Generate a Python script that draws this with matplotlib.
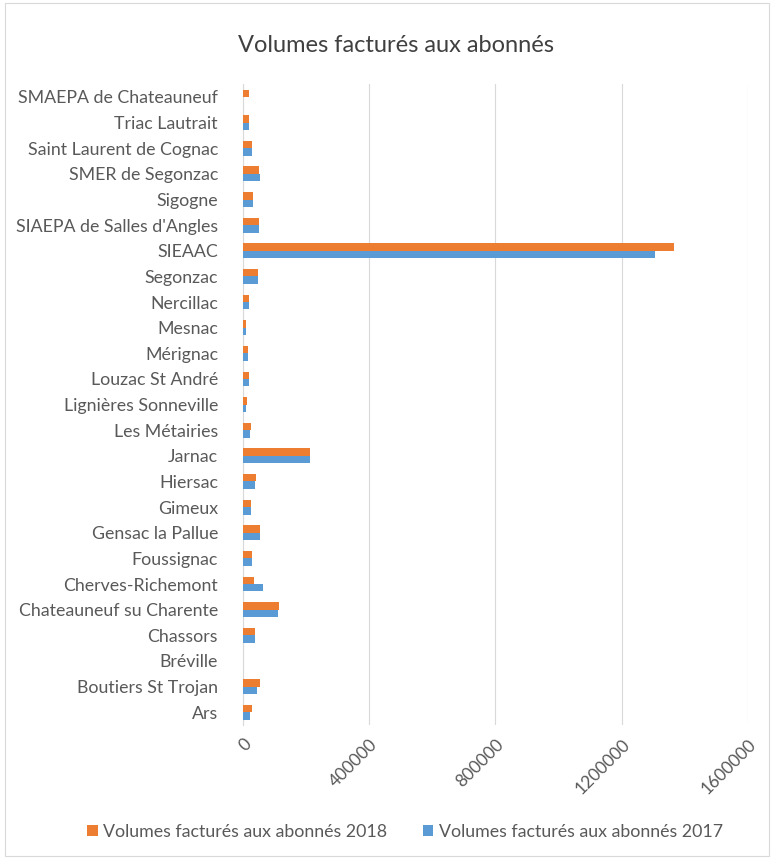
import numpy as np
import matplotlib
matplotlib.use('Agg')
import matplotlib.pyplot as plt
from matplotlib.patches import Rectangle, Patch

plt.rcParams['font.family'] = ['Lato', 'DejaVu Sans']

# bottom to top
CATEGORIES = [
    'Ars', 'Boutiers St Trojan', 'Bréville', 'Chassors', 'Chateauneuf su Charente',
    'Cherves-Richemont', 'Foussignac', 'Gensac la Pallue', 'Gimeux', 'Hiersac',
    'Jarnac', 'Les Métairies', 'Lignières Sonneville', 'Louzac St André', 'Mérignac',
    'Mesnac', 'Nercillac', 'Segonzac', 'SIEAAC', "SIAEPA de Salles d'Angles",
    'Sigogne', 'SMER de Segonzac', 'Saint Laurent de Cognac', 'Triac Lautrait',
    'SMAEPA de Chateauneuf',
]
VOL_2018 = [27500, 54000, 0, 37000, 113000,
            34000, 27500, 54000, 24000, 41000,
            212000, 24000, 14000, 18000, 15000,
            10500, 18000, 46500, 1366000, 50000,
            31000, 50000, 27500, 18000, 18000]
VOL_2017 = [21000, 43000, 0, 37000, 110000,
            63000, 27500, 54000, 24000, 37000,
            212000, 21000, 10000, 18000, 15000,
            10500, 18000, 47000, 1306000, 50000,
            31000, 54000, 27500, 18000, 0]
XTICKS = [0, 400000, 800000, 1200000, 1600000]

ORANGE = '#ED7D31'
BLUE = '#5B9BD5'
TXT = '#595959'

fig = plt.figure(figsize=(7.74, 8.59), dpi=100, facecolor='white')
fig.add_artist(Rectangle((0.006, 0.004), 0.988, 0.992, transform=fig.transFigure,
                         fill=False, edgecolor='#d9d9d9', linewidth=0.8))

ax = fig.add_axes([0.314, 0.156, 0.652, 0.746])

y = np.arange(len(CATEGORIES))
h = 0.29
ax.barh(y + h / 2, VOL_2018, height=h, color=ORANGE, zorder=3)
ax.barh(y - h / 2, VOL_2017, height=h, color=BLUE, zorder=3)

ax.set_ylim(-0.5, len(CATEGORIES) - 0.5)
ax.set_xlim(0, 1600000)
ax.set_yticks(y)
ax.set_yticklabels(CATEGORIES, fontsize=12.8, color=TXT)
ax.set_xticks(XTICKS)
ax.set_xticklabels([str(v) for v in XTICKS], fontsize=12.5, color=TXT,
                   rotation=45, ha='right', va='top', rotation_mode='anchor')
ax.tick_params(axis='both', length=0)
ax.tick_params(axis='x', pad=8)
ax.tick_params(axis='y', pad=18)

ax.grid(axis='x', color='#d9d9d9', linewidth=0.8, zorder=0)
for s in ['top', 'right', 'bottom']:
    ax.spines[s].set_visible(False)
ax.spines['left'].set_color('#d9d9d9')
ax.spines['left'].set_linewidth(0.8)

fig.text(0.512, 0.947, 'Volumes facturés aux abonnés', ha='center', va='center',
         fontsize=17, color='#404040')

handles = [Patch(facecolor=ORANGE), Patch(facecolor=BLUE)]
fig.legend(handles, ['Volumes facturés aux abonnés 2018', 'Volumes facturés aux abonnés 2017'],
           loc='center', bbox_to_anchor=(0.523, 0.032), ncol=2, frameon=False,
           fontsize=12.8, labelcolor=TXT, handlelength=0.6, handleheight=0.6,
           handletextpad=0.3, columnspacing=2.0)

fig.savefig('out.png', dpi=100, facecolor='white')
